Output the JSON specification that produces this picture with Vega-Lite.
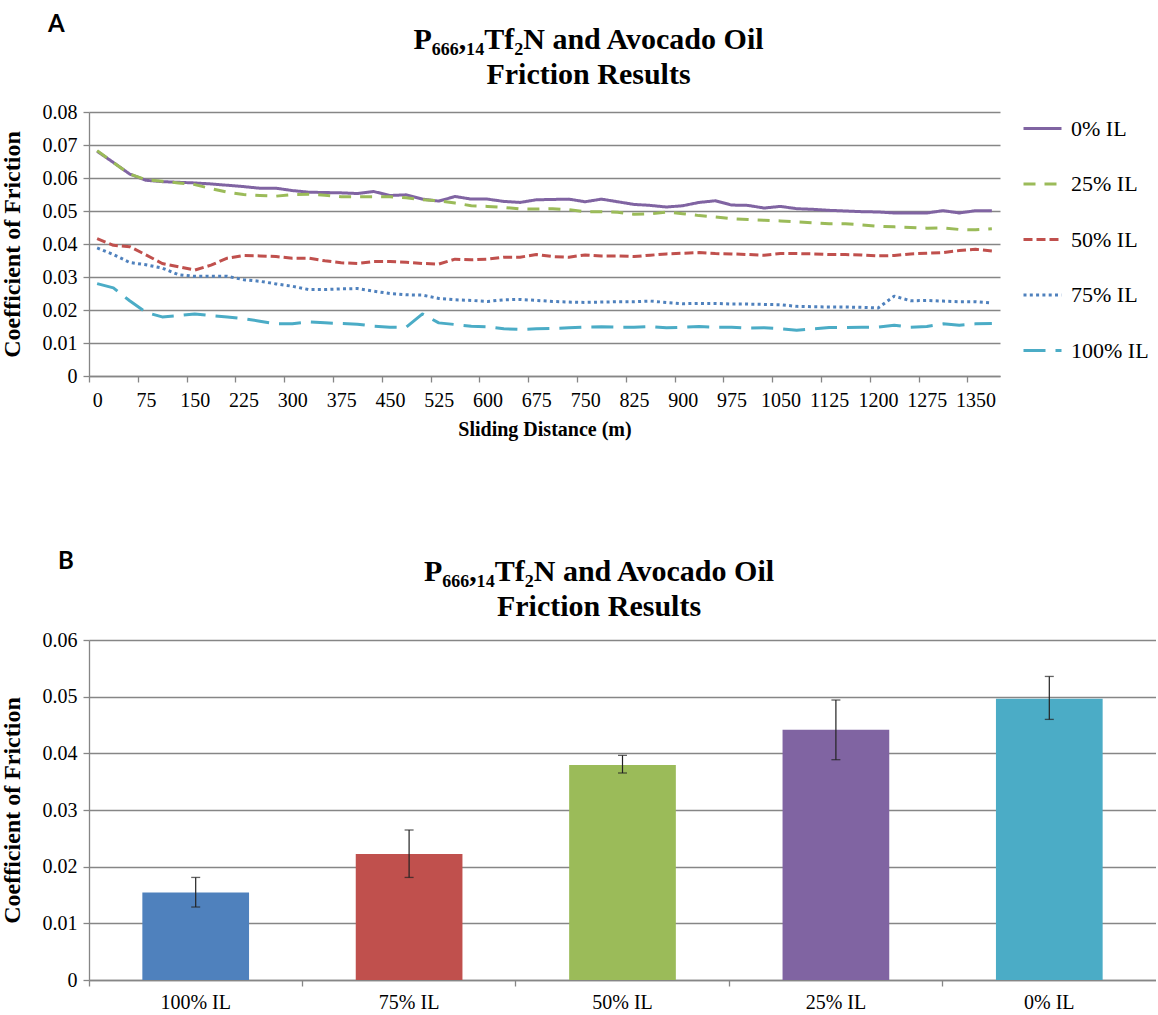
{
  "$schema": "https://vega.github.io/schema/vega-lite/v6.json",
  "background": "white",
  "padding": {"left": 0, "top": 13, "right": 0, "bottom": 0},
  "spacing": 111,
  "title": {"text": "A", "anchor": "start", "font": "Lato", "fontSize": 24, "fontWeight": "bold", "color": "#000", "dx": 48, "offset": -12},
  "resolve": {"scale": {"color": "independent", "strokeDash": "independent"}, "legend": {"color": "independent", "strokeDash": "independent"}},
  "config": {
    "view": {"stroke": null},
    "font": "Liberation Serif",
    "axis": {
      "labelFont": "Liberation Serif", "labelFontSize": 20, "labelColor": "#000",
      "titleFont": "Liberation Serif", "titleFontWeight": "bold", "titleColor": "#000",
      "domainColor": "#868686", "tickColor": "#868686", "gridColor": "#868686",
      "domainWidth": 1.3, "gridWidth": 1.3, "tickWidth": 1.3
    }
  },
  "vconcat": [
    {
      "width": 911,
      "height": 264,
      "title": {"text": ["P₆₆₆,₁₄Tf₂N and Avocado Oil", "Friction Results"], "font": "Liberation Serif", "fontSize": 30, "fontWeight": "bold", "lineHeight": 35, "color": "#000", "anchor": "middle", "frame": "bounds", "offset": 12, "dx": 16},
      "data": {"values": [
        {"d": 0, "0% IL": 0.0681, "25% IL": 0.0683, "50% IL": 0.0416, "75% IL": 0.0388, "100% IL": 0.0280},
        {"d": 25, "0% IL": 0.0647, "25% IL": 0.0647, "50% IL": 0.0396, "75% IL": 0.0368, "100% IL": 0.0267},
        {"d": 50, "0% IL": 0.0612, "25% IL": 0.0612, "50% IL": 0.0392, "75% IL": 0.0344, "100% IL": 0.0228},
        {"d": 75, "0% IL": 0.0593, "25% IL": 0.0595, "50% IL": 0.0367, "75% IL": 0.0337, "100% IL": 0.0193},
        {"d": 100, "0% IL": 0.0589, "25% IL": 0.0590, "50% IL": 0.0341, "75% IL": 0.0327, "100% IL": 0.0179},
        {"d": 125, "0% IL": 0.0587, "25% IL": 0.0585, "50% IL": 0.0331, "75% IL": 0.0307, "100% IL": 0.0183},
        {"d": 150, "0% IL": 0.0585, "25% IL": 0.0580, "50% IL": 0.0321, "75% IL": 0.0302, "100% IL": 0.0188},
        {"d": 175, "0% IL": 0.0582, "25% IL": 0.0568, "50% IL": 0.0336, "75% IL": 0.0302, "100% IL": 0.0183},
        {"d": 200, "0% IL": 0.0578, "25% IL": 0.0557, "50% IL": 0.0357, "75% IL": 0.0302, "100% IL": 0.0179},
        {"d": 225, "0% IL": 0.0574, "25% IL": 0.0550, "50% IL": 0.0365, "75% IL": 0.0292, "100% IL": 0.0174},
        {"d": 250, "0% IL": 0.0569, "25% IL": 0.0547, "50% IL": 0.0364, "75% IL": 0.0287, "100% IL": 0.0166},
        {"d": 275, "0% IL": 0.0569, "25% IL": 0.0545, "50% IL": 0.0362, "75% IL": 0.0279, "100% IL": 0.0158},
        {"d": 300, "0% IL": 0.0562, "25% IL": 0.0550, "50% IL": 0.0357, "75% IL": 0.0272, "100% IL": 0.0158},
        {"d": 325, "0% IL": 0.0557, "25% IL": 0.0551, "50% IL": 0.0357, "75% IL": 0.0262, "100% IL": 0.0164},
        {"d": 350, "0% IL": 0.0556, "25% IL": 0.0548, "50% IL": 0.0349, "75% IL": 0.0262, "100% IL": 0.0161},
        {"d": 375, "0% IL": 0.0555, "25% IL": 0.0543, "50% IL": 0.0343, "75% IL": 0.0264, "100% IL": 0.0159},
        {"d": 400, "0% IL": 0.0553, "25% IL": 0.0543, "50% IL": 0.0341, "75% IL": 0.0265, "100% IL": 0.0157},
        {"d": 425, "0% IL": 0.0559, "25% IL": 0.0543, "50% IL": 0.0347, "75% IL": 0.0257, "100% IL": 0.0151},
        {"d": 450, "0% IL": 0.0547, "25% IL": 0.0543, "50% IL": 0.0347, "75% IL": 0.0250, "100% IL": 0.0148},
        {"d": 475, "0% IL": 0.0549, "25% IL": 0.0540, "50% IL": 0.0345, "75% IL": 0.0246, "100% IL": 0.0148},
        {"d": 500, "0% IL": 0.0536, "25% IL": 0.0534, "50% IL": 0.0341, "75% IL": 0.0245, "100% IL": 0.0188},
        {"d": 525, "0% IL": 0.0530, "25% IL": 0.0531, "50% IL": 0.0339, "75% IL": 0.0235, "100% IL": 0.0161},
        {"d": 550, "0% IL": 0.0544, "25% IL": 0.0524, "50% IL": 0.0354, "75% IL": 0.0231, "100% IL": 0.0156},
        {"d": 575, "0% IL": 0.0536, "25% IL": 0.0516, "50% IL": 0.0352, "75% IL": 0.0229, "100% IL": 0.0151},
        {"d": 600, "0% IL": 0.0536, "25% IL": 0.0514, "50% IL": 0.0354, "75% IL": 0.0226, "100% IL": 0.0149},
        {"d": 625, "0% IL": 0.0529, "25% IL": 0.0511, "50% IL": 0.0360, "75% IL": 0.0231, "100% IL": 0.0143},
        {"d": 650, "0% IL": 0.0526, "25% IL": 0.0506, "50% IL": 0.0360, "75% IL": 0.0232, "100% IL": 0.0141},
        {"d": 675, "0% IL": 0.0534, "25% IL": 0.0506, "50% IL": 0.0368, "75% IL": 0.0229, "100% IL": 0.0143},
        {"d": 700, "0% IL": 0.0535, "25% IL": 0.0507, "50% IL": 0.0362, "75% IL": 0.0226, "100% IL": 0.0144},
        {"d": 725, "0% IL": 0.0536, "25% IL": 0.0504, "50% IL": 0.0360, "75% IL": 0.0224, "100% IL": 0.0146},
        {"d": 750, "0% IL": 0.0528, "25% IL": 0.0498, "50% IL": 0.0367, "75% IL": 0.0223, "100% IL": 0.0148},
        {"d": 775, "0% IL": 0.0536, "25% IL": 0.0498, "50% IL": 0.0364, "75% IL": 0.0224, "100% IL": 0.0149},
        {"d": 800, "0% IL": 0.0528, "25% IL": 0.0496, "50% IL": 0.0364, "75% IL": 0.0225, "100% IL": 0.0148},
        {"d": 825, "0% IL": 0.0520, "25% IL": 0.0490, "50% IL": 0.0362, "75% IL": 0.0225, "100% IL": 0.0148},
        {"d": 850, "0% IL": 0.0517, "25% IL": 0.0491, "50% IL": 0.0366, "75% IL": 0.0227, "100% IL": 0.0150},
        {"d": 875, "0% IL": 0.0512, "25% IL": 0.0497, "50% IL": 0.0370, "75% IL": 0.0223, "100% IL": 0.0146},
        {"d": 900, "0% IL": 0.0516, "25% IL": 0.0492, "50% IL": 0.0372, "75% IL": 0.0219, "100% IL": 0.0148},
        {"d": 925, "0% IL": 0.0526, "25% IL": 0.0486, "50% IL": 0.0374, "75% IL": 0.0220, "100% IL": 0.0150},
        {"d": 950, "0% IL": 0.0531, "25% IL": 0.0482, "50% IL": 0.0371, "75% IL": 0.0220, "100% IL": 0.0148},
        {"d": 975, "0% IL": 0.0518, "25% IL": 0.0477, "50% IL": 0.0370, "75% IL": 0.0218, "100% IL": 0.0148},
        {"d": 1000, "0% IL": 0.0517, "25% IL": 0.0474, "50% IL": 0.0368, "75% IL": 0.0218, "100% IL": 0.0145},
        {"d": 1025, "0% IL": 0.0509, "25% IL": 0.0472, "50% IL": 0.0366, "75% IL": 0.0217, "100% IL": 0.0146},
        {"d": 1050, "0% IL": 0.0514, "25% IL": 0.0470, "50% IL": 0.0371, "75% IL": 0.0216, "100% IL": 0.0143},
        {"d": 1075, "0% IL": 0.0507, "25% IL": 0.0467, "50% IL": 0.0371, "75% IL": 0.0211, "100% IL": 0.0139},
        {"d": 1100, "0% IL": 0.0505, "25% IL": 0.0464, "50% IL": 0.0370, "75% IL": 0.0210, "100% IL": 0.0143},
        {"d": 1125, "0% IL": 0.0502, "25% IL": 0.0461, "50% IL": 0.0368, "75% IL": 0.0209, "100% IL": 0.0147},
        {"d": 1150, "0% IL": 0.0500, "25% IL": 0.0461, "50% IL": 0.0368, "75% IL": 0.0209, "100% IL": 0.0147},
        {"d": 1175, "0% IL": 0.0498, "25% IL": 0.0458, "50% IL": 0.0367, "75% IL": 0.0208, "100% IL": 0.0148},
        {"d": 1200, "0% IL": 0.0497, "25% IL": 0.0454, "50% IL": 0.0364, "75% IL": 0.0206, "100% IL": 0.0148},
        {"d": 1225, "0% IL": 0.0494, "25% IL": 0.0452, "50% IL": 0.0365, "75% IL": 0.0242, "100% IL": 0.0154},
        {"d": 1250, "0% IL": 0.0494, "25% IL": 0.0450, "50% IL": 0.0370, "75% IL": 0.0228, "100% IL": 0.0148},
        {"d": 1275, "0% IL": 0.0494, "25% IL": 0.0448, "50% IL": 0.0372, "75% IL": 0.0229, "100% IL": 0.0150},
        {"d": 1300, "0% IL": 0.0501, "25% IL": 0.0449, "50% IL": 0.0374, "75% IL": 0.0227, "100% IL": 0.0158},
        {"d": 1325, "0% IL": 0.0494, "25% IL": 0.0444, "50% IL": 0.0380, "75% IL": 0.0225, "100% IL": 0.0154},
        {"d": 1350, "0% IL": 0.0501, "25% IL": 0.0443, "50% IL": 0.0384, "75% IL": 0.0225, "100% IL": 0.0158},
        {"d": 1375, "0% IL": 0.0501, "25% IL": 0.0446, "50% IL": 0.0379, "75% IL": 0.0221, "100% IL": 0.0159}
      ]},
      "transform": [{"fold": ["0% IL", "25% IL", "50% IL", "75% IL", "100% IL"], "as": ["series", "cof"]}],
      "mark": {"type": "line", "strokeWidth": 3, "strokeCap": "butt", "strokeJoin": "round"},
      "encoding": {
        "x": {
          "field": "d", "type": "quantitative",
          "scale": {"domain": [-12.5, 1387.5], "nice": false, "zero": false},
          "axis": {
            "title": "Sliding Distance (m)", "titleFontSize": 20, "titlePadding": 9,
            "values": [-12.5, 62.5, 137.5, 212.5, 287.5, 362.5, 437.5, 512.5, 587.5, 662.5, 737.5, 812.5, 887.5, 962.5, 1037.5, 1112.5, 1187.5, 1262.5, 1337.5],
            "labelExpr": "format(datum.value + 12.5, 'd')",
            "labelOffset": 8.13, "labelFlush": false, "labelOverlap": false, "labelPadding": 8,
            "grid": false, "tickSize": 6
          }
        },
        "y": {
          "field": "cof", "type": "quantitative",
          "scale": {"domain": [0, 0.08], "nice": false},
          "axis": {
            "title": "Coefficient of Friction", "titleFontSize": 24, "titlePadding": 18,
            "values": [0, 0.01, 0.02, 0.03, 0.04, 0.05, 0.06, 0.07, 0.08],
            "format": "~g", "grid": true, "tickSize": 6, "labelPadding": 6, "labelFlush": false
          }
        },
        "color": {
          "field": "series", "type": "nominal",
          "scale": {"domain": ["0% IL", "25% IL", "50% IL", "75% IL", "100% IL"], "range": ["#8064A2", "#9BBB59", "#C0504D", "#4F81BD", "#4BACC6"]},
          "legend": {"title": null, "orient": "right", "offset": 26, "symbolType": "stroke", "symbolSize": 1444, "symbolStrokeWidth": 3, "labelFont": "Liberation Serif", "labelFontSize": 22, "labelColor": "#000", "rowPadding": 23.5, "labelOffset": 8, "padding": -4}
        },
        "strokeDash": {
          "field": "series", "type": "nominal",
          "scale": {"domain": ["0% IL", "25% IL", "50% IL", "75% IL", "100% IL"], "range": [[1, 0], [12, 9], [9, 4], [3, 3.3], [22, 10]]},
          "legend": {"title": null, "orient": "right", "offset": 26, "symbolType": "stroke", "symbolSize": 1444, "symbolStrokeWidth": 3, "labelFont": "Liberation Serif", "labelFontSize": 22, "labelColor": "#000", "rowPadding": 23.5, "labelOffset": 8, "padding": -4}
        }
      }
    },
    {
      "title": {"text": "B", "anchor": "start", "font": "Lato", "fontSize": 24, "fontWeight": "bold", "color": "#000", "dx": 58, "offset": -17},
      "vconcat": [
        {
          "width": 1067,
          "height": 340,
          "title": {"text": ["P₆₆₆,₁₄Tf₂N and Avocado Oil", "Friction Results"], "font": "Liberation Serif", "fontSize": 30, "fontWeight": "bold", "lineHeight": 35, "color": "#000", "anchor": "middle", "frame": "bounds", "offset": 8, "dx": 21},
          "data": {"values": [
            {"c": "100% IL", "m": 0.01546, "lo": 0.01288, "hi": 0.0181},
            {"c": "75% IL", "m": 0.02223, "lo": 0.0181, "hi": 0.02647},
            {"c": "50% IL", "m": 0.03794, "lo": 0.03653, "hi": 0.03964},
            {"c": "25% IL", "m": 0.04417, "lo": 0.03888, "hi": 0.04941},
            {"c": "0% IL", "m": 0.04964, "lo": 0.04599, "hi": 0.05357}
          ]},
          "encoding": {
            "x": {
              "field": "c", "type": "nominal", "sort": null,
              "scale": {"paddingInner": 0, "paddingOuter": 0},
              "axis": {"title": null, "labelAngle": 0, "bandPosition": 0, "tickSize": 6, "labelPadding": 6, "grid": false}
            }
          },
          "layer": [
            {
              "mark": {"type": "bar", "width": {"band": 0.5}},
              "encoding": {
                "y": {
                  "field": "m", "type": "quantitative",
                  "scale": {"domain": [0, 0.06], "nice": false},
                  "axis": {"title": "Coefficient of Friction", "titleFontSize": 24, "titlePadding": 18, "values": [0, 0.01, 0.02, 0.03, 0.04, 0.05, 0.06], "format": "~g", "grid": true, "tickSize": 6, "labelPadding": 6, "labelFlush": false}
                },
                "color": {
                  "field": "c", "type": "nominal",
                  "scale": {"domain": ["100% IL", "75% IL", "50% IL", "25% IL", "0% IL"], "range": ["#4F81BD", "#C0504D", "#9BBB59", "#8064A2", "#4BACC6"]},
                  "legend": null
                }
              }
            },
            {
              "mark": {"type": "rule", "color": "#222222", "strokeWidth": 1.2},
              "encoding": {"y": {"field": "lo", "type": "quantitative"}, "y2": {"field": "hi"}}
            },
            {
              "mark": {"type": "tick", "color": "#222222", "thickness": 1.3, "size": 9},
              "encoding": {"y": {"field": "lo", "type": "quantitative"}}
            },
            {
              "mark": {"type": "tick", "color": "#222222", "thickness": 1.3, "size": 9},
              "encoding": {"y": {"field": "hi", "type": "quantitative"}}
            }
          ]
        }
      ]
    }
  ]
}
